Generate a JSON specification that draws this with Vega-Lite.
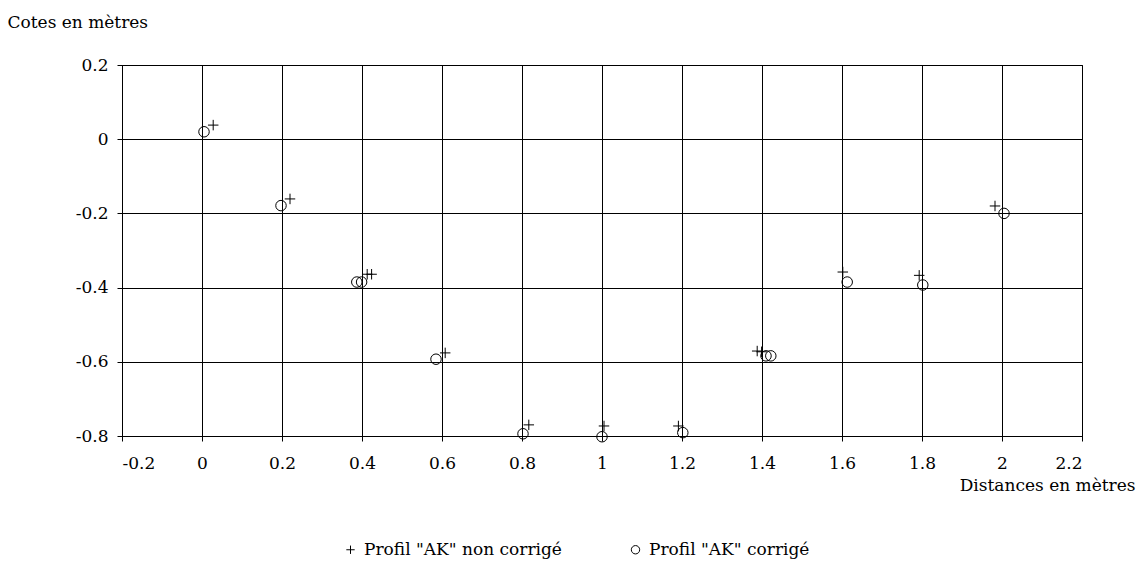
{
  "$schema": "https://vega.github.io/schema/vega-lite/v6.json",
  "autosize": {"type": "none"},
  "padding": {"left": 122, "top": 65, "right": 60, "bottom": 125},
  "width": 960,
  "height": 371,
  "background": "white",
  "config": {
    "view": {"stroke": "black", "strokeWidth": 1},
    "font": "DejaVu Serif",
    "axis": {
      "labelFont": "DejaVu Serif",
      "labelFontSize": 17,
      "labelColor": "black",
      "titleFont": "DejaVu Serif",
      "titleFontSize": 17,
      "titleFontWeight": "normal",
      "titleColor": "black",
      "gridColor": "black",
      "gridOpacity": 1,
      "gridWidth": 1,
      "domainColor": "black",
      "tickColor": "black",
      "tickSize": 5
    },
    "legend": {
      "labelFont": "DejaVu Serif",
      "labelFontSize": 17,
      "labelColor": "black"
    }
  },
  "data": {
    "values": [
      {"serie": "Profil \"AK\" non corrigé", "distance": 0.028, "cote": 0.038},
      {"serie": "Profil \"AK\" non corrigé", "distance": 0.22, "cote": -0.161},
      {"serie": "Profil \"AK\" non corrigé", "distance": 0.413, "cote": -0.364},
      {"serie": "Profil \"AK\" non corrigé", "distance": 0.424, "cote": -0.364},
      {"serie": "Profil \"AK\" non corrigé", "distance": 0.608, "cote": -0.576},
      {"serie": "Profil \"AK\" non corrigé", "distance": 0.817, "cote": -0.770},
      {"serie": "Profil \"AK\" non corrigé", "distance": 1.005, "cote": -0.773},
      {"serie": "Profil \"AK\" non corrigé", "distance": 1.191, "cote": -0.773},
      {"serie": "Profil \"AK\" non corrigé", "distance": 1.388, "cote": -0.571},
      {"serie": "Profil \"AK\" non corrigé", "distance": 1.399, "cote": -0.573},
      {"serie": "Profil \"AK\" non corrigé", "distance": 1.602, "cote": -0.358},
      {"serie": "Profil \"AK\" non corrigé", "distance": 1.793, "cote": -0.367},
      {"serie": "Profil \"AK\" non corrigé", "distance": 1.9825, "cote": -0.180},
      {"serie": "Profil \"AK\" corrigé", "distance": 0.005, "cote": 0.02},
      {"serie": "Profil \"AK\" corrigé", "distance": 0.1975, "cote": -0.179},
      {"serie": "Profil \"AK\" corrigé", "distance": 0.387, "cote": -0.385},
      {"serie": "Profil \"AK\" corrigé", "distance": 0.399, "cote": -0.385},
      {"serie": "Profil \"AK\" corrigé", "distance": 0.585, "cote": -0.593},
      {"serie": "Profil \"AK\" corrigé", "distance": 0.8025, "cote": -0.794},
      {"serie": "Profil \"AK\" corrigé", "distance": 1.0, "cote": -0.802},
      {"serie": "Profil \"AK\" corrigé", "distance": 1.202, "cote": -0.791},
      {"serie": "Profil \"AK\" corrigé", "distance": 1.41, "cote": -0.584},
      {"serie": "Profil \"AK\" corrigé", "distance": 1.422, "cote": -0.584},
      {"serie": "Profil \"AK\" corrigé", "distance": 1.613, "cote": -0.385},
      {"serie": "Profil \"AK\" corrigé", "distance": 1.802, "cote": -0.393},
      {"serie": "Profil \"AK\" corrigé", "distance": 2.005, "cote": -0.200}
    ]
  },
  "mark": {"type": "point", "filled": false, "strokeWidth": 1, "opacity": 1, "size": 110},
  "encoding": {
    "x": {
      "field": "distance",
      "type": "quantitative",
      "scale": {"domain": [-0.2, 2.2], "nice": false, "zero": false},
      "axis": {
        "values": [-0.2, 0, 0.2, 0.4, 0.6, 0.8, 1, 1.2, 1.4, 1.6, 1.8, 2, 2.2],
        "labelExpr": "datum.value + ''",
        "labelPadding": 14,
        "title": "Distances en mètres",
        "titleAlign": "right",
        "titleAnchor": null,
        "titleX": 1013,
        "titleY": 49,
        "titleBaseline": "middle"
      }
    },
    "y": {
      "field": "cote",
      "type": "quantitative",
      "scale": {"domain": [-0.8, 0.2], "nice": false, "zero": false},
      "axis": {
        "values": [-0.8, -0.6, -0.4, -0.2, 0, 0.2],
        "labelExpr": "datum.value + ''",
        "labelPadding": 9,
        "title": "Cotes en mètres",
        "titleAngle": 0,
        "titleAlign": "left",
        "titleBaseline": "middle",
        "titleX": -115,
        "titleY": -43
      }
    },
    "shape": {
      "field": "serie",
      "type": "nominal",
      "scale": {
        "domain": ["Profil \"AK\" non corrigé", "Profil \"AK\" corrigé"],
        "range": ["M-1,0H1M0,-1V1", "circle"]
      },
      "legend": {
        "title": null,
        "orient": "none",
        "direction": "horizontal",
        "legendX": 220,
        "legendY": 476,
        "columnPadding": 65,
        "symbolSize": 70,
        "symbolStrokeColor": "black",
        "symbolStrokeWidth": 1,
        "symbolFillColor": "transparent",
        "labelOffset": 5,
        "labelLimit": 400
      }
    },
    "color": {"value": "black"}
  }
}
